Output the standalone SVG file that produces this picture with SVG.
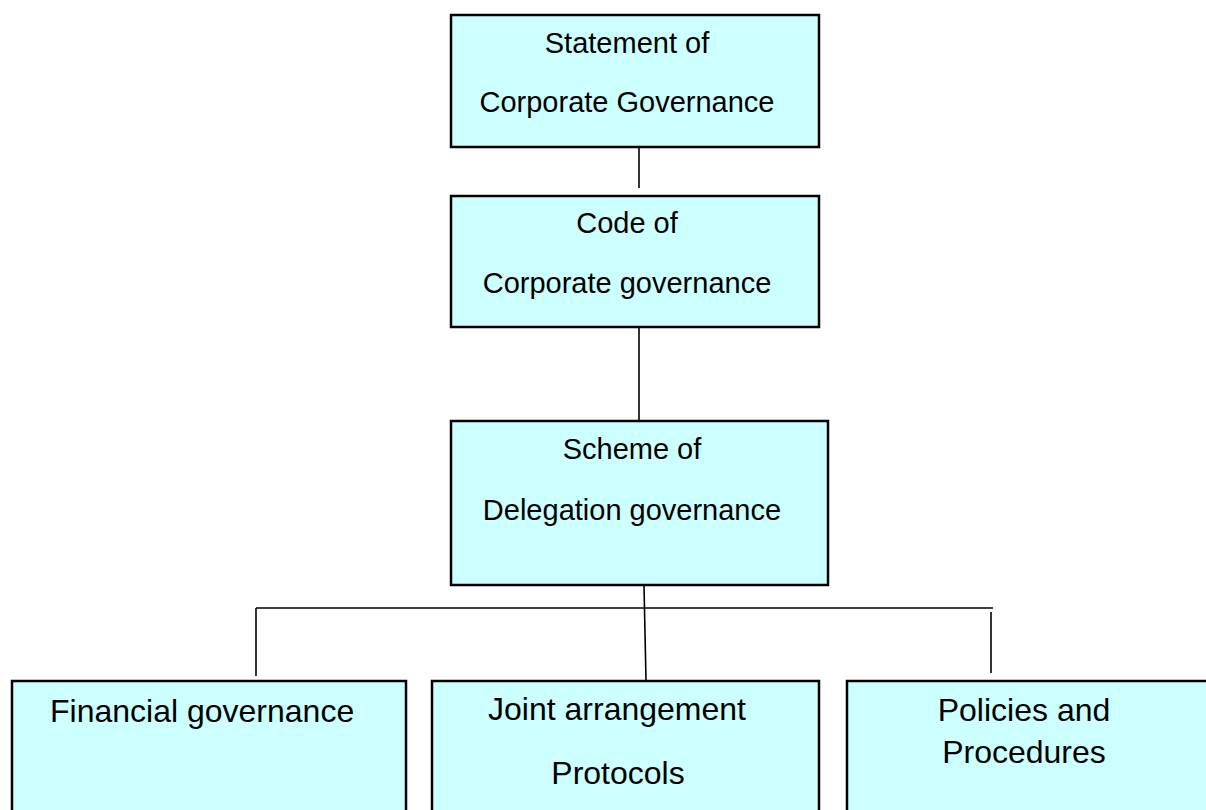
<svg xmlns="http://www.w3.org/2000/svg" width="1206" height="810" viewBox="0 0 1206 810">
  <style>
    .box { fill: #CCFFFF; stroke: #000000; stroke-width: 2.5; }
    .lbl { font-family: "Liberation Sans", Arial, sans-serif; font-size: 29px; fill: #000000; }
    .lbl-lg { font-family: "Liberation Sans", Arial, sans-serif; font-size: 32px; fill: #000000; }
    .mid { text-anchor: middle; }
    .conn { stroke: #000000; stroke-width: 1.6; fill: none; }
  </style>
  <rect width="1206" height="810" fill="#FFFFFF"/>

  <!-- connectors -->
  <g id="connectors">
    <line class="conn" x1="639" y1="147" x2="639" y2="188"/>
    <line class="conn" x1="639" y1="327" x2="639" y2="421"/>
    <line class="conn" x1="644" y1="586" x2="646" y2="680"/>
    <line class="conn" x1="256" y1="608" x2="993" y2="608"/>
    <line class="conn" x1="256" y1="608" x2="256" y2="676"/>
    <line class="conn" x1="991" y1="612" x2="991" y2="673"/>
  </g>

  <g id="statement">
    <rect class="box" x="451" y="15" width="368" height="132"/>
    <text class="lbl mid" x="627" y="53">Statement of</text>
    <text class="lbl mid" x="627" y="112">Corporate Governance</text>
  </g>

  <g id="code">
    <rect class="box" x="451" y="196" width="368" height="131"/>
    <text class="lbl mid" x="627" y="233">Code of</text>
    <text class="lbl mid" x="627" y="293">Corporate governance</text>
  </g>

  <g id="scheme">
    <rect class="box" x="451" y="421" width="377" height="164"/>
    <text class="lbl mid" x="632" y="459">Scheme of</text>
    <text class="lbl mid" x="632" y="520">Delegation governance</text>
  </g>

  <g id="financial">
    <rect class="box" x="12" y="681" width="394" height="150"/>
    <text class="lbl-lg" x="50" y="722">Financial governance</text>
  </g>

  <g id="joint">
    <rect class="box" x="432" y="681" width="387" height="150"/>
    <text class="lbl-lg mid" x="617" y="720">Joint arrangement</text>
    <text class="lbl-lg mid" x="618" y="784">Protocols</text>
  </g>

  <g id="policies">
    <rect class="box" x="847" y="681" width="380" height="150"/>
    <text class="lbl-lg mid" x="1024" y="721">Policies and</text>
    <text class="lbl-lg mid" x="1024" y="763">Procedures</text>
  </g>
</svg>
